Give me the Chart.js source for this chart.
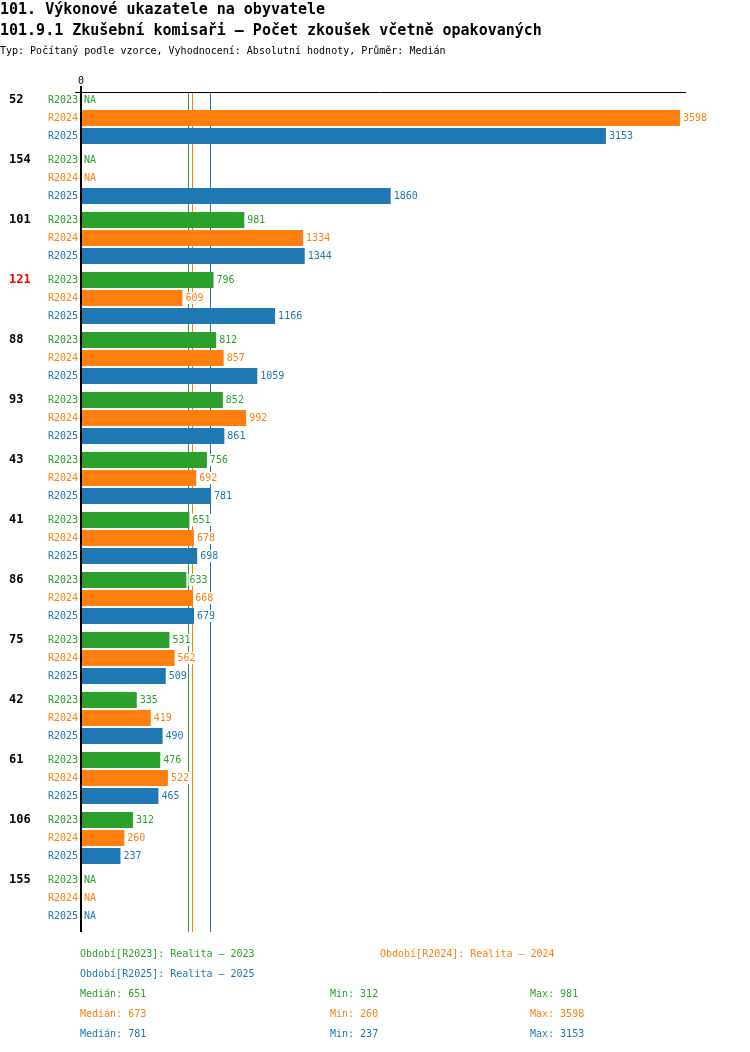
<!DOCTYPE html>
<html>
<head>
<meta charset="utf-8">
<script src="https://cdn.jsdelivr.net/npm/chart.js@4/dist/chart.umd.min.js"></script>
<style>
body { margin: 0; background: #fff; font-family: "DejaVu Sans Mono", monospace; }
#wrap { position: relative; width: 750px; height: 1052px; overflow: hidden; }
#chart { position: absolute; left: 0; top: 0; }
.t { position: absolute; white-space: pre; line-height: 20px; }
</style>
</head>
<body>
<div id="wrap">
<canvas id="chart" width="750" height="1052"></canvas>
<div class="t" style="left:0;top:-1px;font-size:15px;font-weight:bold">101. Výkonové ukazatele na obyvatele</div>
<div class="t" style="left:0;top:20px;font-size:15px;font-weight:bold">101.9.1 Zkušební komisaři – Počet zkoušek včetně opakovaných</div>
<div class="t" style="left:0;top:41px;font-size:10px">Typ: Počítaný podle vzorce, Vyhodnocení: Absolutní hodnoty, Průměr: Medián</div>
<div id="legend"></div>
</div>
<script>
const groups = ['52', '154', '101', '121', '88', '93', '43', '41', '86', '75', '42', '61', '106', '155'];
const highlighted = ['121'];
const seriesNames = ['R2023', 'R2024', 'R2025'];
const seriesTitles = ['Realita – 2023', 'Realita – 2024', 'Realita – 2025'];
const colors = ['#2ca02c', '#ff7f0e', '#1f77b4'];

const r2023 = [null, null, 981, 796, 812, 852, 756, 651, 633, 531, 335, 476, 312, null];
const r2024 = [3598, null, 1334, 609, 857, 992, 692, 678, 668, 562, 419, 522, 260, null];
const r2025 = [3153, 1860, 1344, 1166, 1059, 861, 781, 698, 679, 509, 490, 465, 237, null];
const series = [r2023, r2024, r2025];

const xMax = 3634;

function median(arr) {
    const v = arr.filter(a => a !== null).sort((a, b) => a - b);
    const m = Math.floor(v.length / 2);
    return v.length % 2 ? v[m] : (v[m - 1] + v[m]) / 2;
}
const stats = series.map(s => {
    const v = s.filter(a => a !== null);
    return { med: median(s), min: Math.min(...v), max: Math.max(...v) };
});

// medians go behind the bars, axis lines and labels on top
const overlay = {
    id: 'overlay',
    beforeDatasetsDraw(chart) {
        const ctx = chart.ctx;
        const xs = chart.scales.x;
        const area = chart.chartArea;
        ctx.save();
        ctx.lineWidth = 1;
        stats.forEach((st, i) => {
            const px = Math.round(xs.getPixelForValue(st.med)) - 0.5;
            ctx.strokeStyle = colors[i];
            ctx.beginPath();
            ctx.moveTo(px, area.top + 4);
            ctx.lineTo(px, area.bottom + 4);
            ctx.stroke();
        });
        ctx.restore();
    },
    afterDatasetsDraw(chart) {
        const ctx = chart.ctx;
        const xs = chart.scales.x;
        const area = chart.chartArea;
        const top = area.top + 4, bottom = area.bottom + 4;
        const x0 = xs.getPixelForValue(0);
        ctx.save();

        ctx.strokeStyle = '#000';
        ctx.lineWidth = 1;
        ctx.beginPath();
        ctx.moveTo(75, top + 0.5);
        ctx.lineTo(area.right, top + 0.5);
        ctx.stroke();

        ctx.lineWidth = 2;
        ctx.beginPath();
        ctx.moveTo(x0, top - 6);
        ctx.lineTo(x0, bottom);
        ctx.stroke();

        ctx.fillStyle = '#000';
        ctx.font = '10px "DejaVu Sans Mono"';
        ctx.textAlign = 'center';
        ctx.textBaseline = 'middle';
        ctx.fillText('0', x0, top - 11);

        series.forEach((s, i) => {
            const meta = chart.getDatasetMeta(i);
            s.forEach((v, j) => {
                const y = meta.data[j].y;
                ctx.font = '10px "DejaVu Sans Mono"';
                ctx.fillStyle = colors[i];
                ctx.textAlign = 'right';
                ctx.fillText(seriesNames[i], 78, y);
                ctx.textAlign = 'left';
                const txt = v === null ? 'NA' : String(v);
                const tx = v === null ? x0 + 3 : xs.getPixelForValue(v) + 3;
                const w = ctx.measureText(txt).width;
                ctx.fillStyle = '#fff';
                ctx.fillRect(tx - 1, y - 6, w + 2, 12);
                ctx.fillStyle = colors[i];
                ctx.fillText(txt, tx, y);
                if (i === 0) {
                    ctx.font = 'bold 12px "DejaVu Sans Mono"';
                    ctx.fillStyle = highlighted.includes(groups[j]) ? '#ff0000' : '#000';
                    ctx.fillText(groups[j], 9, y);
                }
            });
        });
        ctx.restore();
    }
};

new Chart(document.getElementById('chart'), {
    type: 'bar',
    data: {
        labels: groups,
        datasets: series.map((s, i) => ({
            label: seriesNames[i],
            data: s,
            backgroundColor: colors[i],
            borderWidth: 0,
            categoryPercentage: 0.9,
            barPercentage: 16 / 18
        }))
    },
    options: {
        indexAxis: 'y',
        responsive: false,
        animation: false,
        devicePixelRatio: 1,
        layout: { padding: { left: 81, right: 64, top: 88, bottom: 124 } },
        scales: {
            x: { type: 'linear', min: 0, max: xMax, display: false },
            y: { type: 'category', display: false, offset: true }
        },
        plugins: { legend: { display: false }, tooltip: { enabled: false } }
    },
    plugins: [overlay]
});

// legend and statistics below the chart
const legend = document.getElementById('legend');
function addText(txt, x, y, color) {
    const d = document.createElement('div');
    d.className = 't';
    d.style.left = x + 'px';
    d.style.top = (y - 10) + 'px';
    d.style.fontSize = '10px';
    d.style.color = color;
    d.textContent = txt;
    legend.appendChild(d);
}
addText('Období[' + seriesNames[0] + ']: ' + seriesTitles[0], 80, 954, colors[0]);
addText('Období[' + seriesNames[1] + ']: ' + seriesTitles[1], 380, 954, colors[1]);
addText('Období[' + seriesNames[2] + ']: ' + seriesTitles[2], 80, 974, colors[2]);
stats.forEach((st, i) => {
    const y = 994 + i * 20;
    addText('Medián: ' + st.med, 80, y, colors[i]);
    addText('Min: ' + st.min, 330, y, colors[i]);
    addText('Max: ' + st.max, 530, y, colors[i]);
});
</script>
</body>
</html>
